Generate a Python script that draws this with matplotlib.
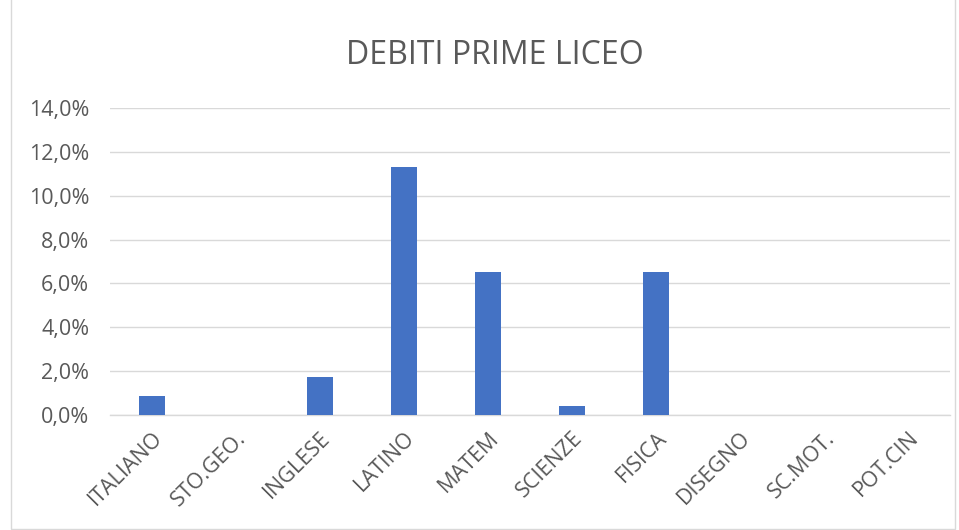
import matplotlib
matplotlib.use("Agg")
import matplotlib.pyplot as plt
from matplotlib.patches import Rectangle
from matplotlib.ticker import FuncFormatter
import numpy as np

# Subjects and share of students with a debt (percent)
subjects = ["ITALIANO", "STO.GEO.", "INGLESE", "LATINO", "MATEM",
            "SCIENZE", "FISICA", "DISEGNO", "SC.MOT.", "POT.CIN"]
debts = [0.87, 0.0, 1.74, 11.30, 6.52, 0.43, 6.52, 0.0, 0.0, 0.0]
y_ticks = [0, 2, 4, 6, 8, 10, 12, 14]

plt.rcParams['font.family'] = ['Open Sans', 'DejaVu Sans']
text_col = '#595959'

fig = plt.figure(figsize=(9.59, 5.30), dpi=100)
ax = fig.add_axes([0.1147, 0.217, 0.8759, 0.579])

x = np.arange(len(subjects))
ax.bar(x, debts, width=0.32, color='#4472C4', zorder=3)

ax.set_xlim(-0.5, len(subjects) - 0.5)
ax.set_ylim(0, 14)
ax.set_yticks(y_ticks)
ax.yaxis.set_major_formatter(FuncFormatter(lambda v, p: f"{v:.1f}%".replace('.', ',')))
ax.grid(axis='y', color='#D9D9D9', linewidth=1, zorder=0)

for s in ['top', 'right', 'left']:
    ax.spines[s].set_visible(False)
ax.spines['bottom'].set_color('#D9D9D9')
ax.spines['bottom'].set_linewidth(1)

ax.set_xticks(x)
ax.set_xticklabels(subjects, rotation=45, ha='right', va='top',
                   rotation_mode='anchor', fontsize=15.5, color=text_col)
ax.tick_params(axis='x', length=0, pad=9)
ax.tick_params(axis='y', length=0, pad=15, labelsize=15.5, labelcolor=text_col)

fig.text(0.516, 0.896, "DEBITI PRIME LICEO", ha='center', va='center',
         fontsize=23, color=text_col)

# chart frame
fig.patches.append(Rectangle((0.011, 0.002), 0.985, 1.1, transform=fig.transFigure,
                             fill=False, edgecolor='#D9D9D9', linewidth=1))

fig.savefig("out.png", dpi=100)
